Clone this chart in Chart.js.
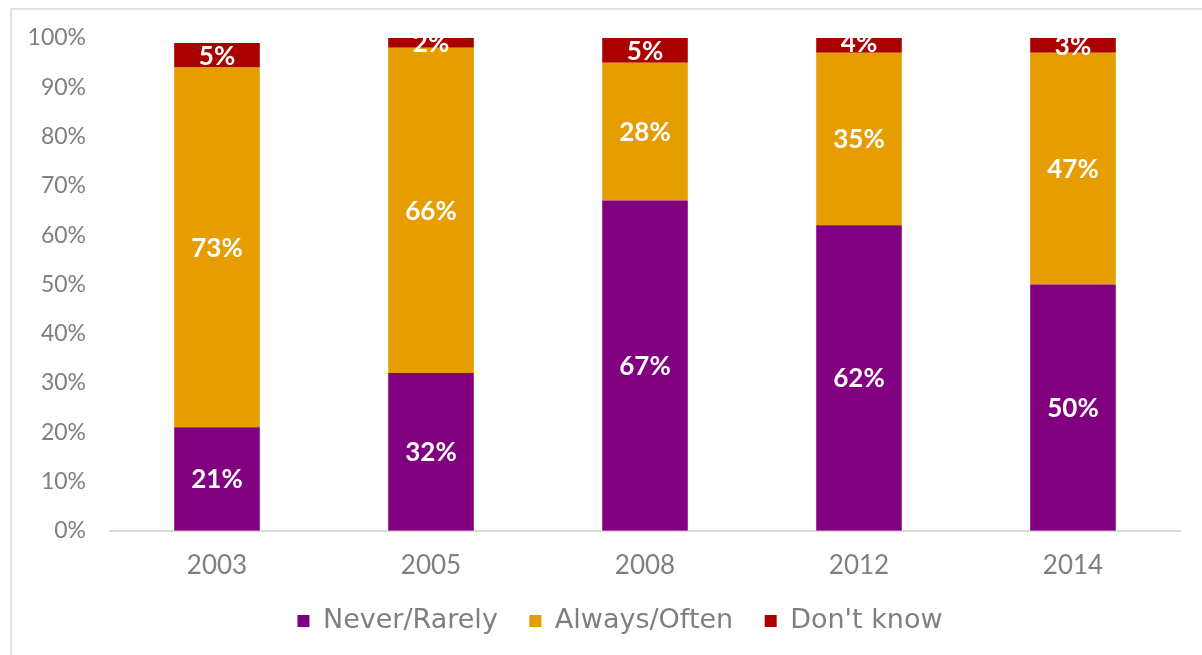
<!DOCTYPE html>
<html>
<head>
<meta charset="utf-8">
<script src="https://cdn.jsdelivr.net/npm/chart.js@4.4.1/dist/chart.umd.min.js"></script>
<style>
  html, body { margin: 0; padding: 0; background: #fff; }
  #wrap { position: relative; width: 1202px; height: 655px; overflow: hidden; }
  #frame { position: absolute; left: 10px; top: 8px; width: 1300px; height: 800px;
           border: 2px solid #e2e2e2; box-sizing: border-box; }
  canvas { position: absolute; left: 0; top: 0; }
</style>
</head>
<body>
<div id="wrap">
  <div id="frame"></div>
  <canvas id="c" width="1202" height="655"></canvas>
</div>
<script>
// Survey years
const years = ['2003', '2005', '2008', '2012', '2014'];
// Share of responses per year (%)
const neverRarely = [21, 32, 67, 62, 50];
const alwaysOften = [73, 66, 28, 35, 47];
const dontKnow = [5, 2, 5, 4, 3];
// Y axis tick values (%)
const yTicks = [0, 10, 20, 30, 40, 50, 60, 70, 80, 90, 100];

const FONT = 'Lato, "DejaVu Sans", sans-serif';
const WIDE_FONT = '"DejaVu Sans", Lato, sans-serif';
const GREY = '#7f7f7f';

// Writes each segment's value in white, centred in the bar, clipped to the plot area
const segmentLabels = {
  id: 'segmentLabels',
  afterDatasetsDraw(chart) {
    const { ctx, chartArea } = chart;
    ctx.save();
    ctx.beginPath();
    ctx.rect(chartArea.left, chartArea.top, chartArea.right - chartArea.left, chartArea.bottom - chartArea.top);
    ctx.clip();
    ctx.fillStyle = '#ffffff';
    ctx.font = 'bold 26px ' + FONT;
    ctx.textAlign = 'center';
    ctx.textBaseline = 'middle';
    chart.data.datasets.forEach((ds, di) => {
      const meta = chart.getDatasetMeta(di);
      meta.data.forEach((bar, i) => {
        const { x, y, base } = bar.getProps(['x', 'y', 'base'], true);
        ctx.fillText(ds.data[i] + '%', x, (y + base) / 2 + 1);
      });
    });
    ctx.restore();
  }
};

// Nudges the legend row so it sits a little right of centre and closer to the axis labels
const legendOffset = {
  id: 'legendOffset',
  afterLayout(chart) {
    const lg = chart.legend;
    if (!lg) return;
    const dx = 30, dy = -24;
    lg.left += dx; lg.right += dx;
    lg.top += dy; lg.bottom += dy;
  }
};

new Chart(document.getElementById('c'), {
  type: 'bar',
  data: {
    labels: years,
    datasets: [
      { label: 'Never/Rarely', data: neverRarely, backgroundColor: '#800080' },
      { label: 'Always/Often', data: alwaysOften, backgroundColor: '#e69d00' },
      { label: "Don't know", data: dontKnow, backgroundColor: '#aa0000' }
    ]
  },
  options: {
    responsive: false,
    animation: false,
    devicePixelRatio: 1,
    layout: { padding: { left: 0, right: 22, top: 38, bottom: -13.5 } },
    datasets: { bar: { barPercentage: 0.4, categoryPercentage: 1.0 } },
    plugins: {
      legend: {
        position: 'bottom',
        labels: {
          boxWidth: 12, boxHeight: 12, padding: 31.5,
          color: GREY, font: { family: WIDE_FONT, size: 27 }
        }
      },
      tooltip: { enabled: false }
    },
    scales: {
      x: {
        stacked: true,
        grid: { display: false, drawTicks: false },
        border: { display: true, color: '#d9d9d9', width: 2 },
        ticks: { color: GREY, padding: 19, font: { family: FONT, size: 26 } }
      },
      y: {
        stacked: true,
        min: 0, max: 100,
        afterFit(scale) { scale.width = 110; },
        afterBuildTicks(scale) { scale.ticks = yTicks.map(v => ({ value: v })); },
        grid: { display: false, drawTicks: false },
        border: { display: false },
        ticks: {
          color: GREY, padding: 24, font: { family: FONT, size: 23 },
          callback: v => v + '%'
        }
      }
    }
  },
  plugins: [segmentLabels, legendOffset]
});
</script>
</body>
</html>
